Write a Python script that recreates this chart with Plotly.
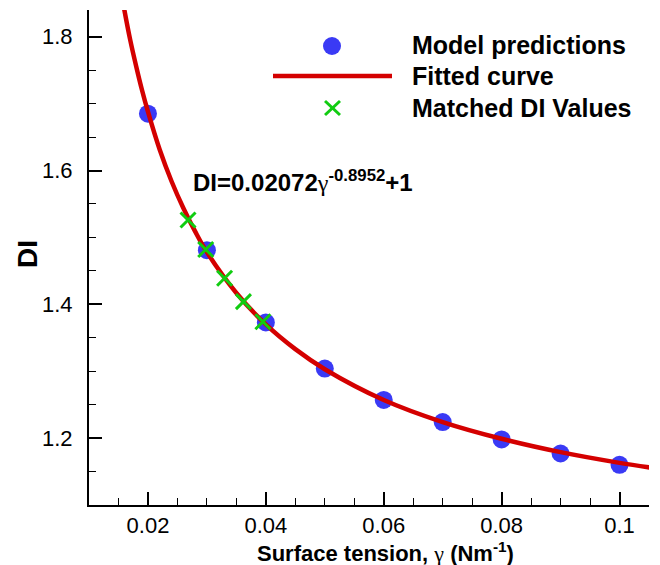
import plotly.graph_objects as go

# Model predictions
model_x = [0.02, 0.03, 0.04, 0.05, 0.06, 0.07, 0.08, 0.09, 0.10]
model_y = [1.685, 1.481, 1.373, 1.304, 1.257, 1.224, 1.198, 1.177, 1.160]

# Fitted curve points
curve_x = [0.015, 0.016, 0.017, 0.018, 0.019, 0.020, 0.022, 0.024, 0.026, 0.028,
           0.030, 0.035, 0.040, 0.045, 0.050, 0.060, 0.070, 0.080, 0.090, 0.100, 0.106]
curve_y = [1.890, 1.840, 1.795, 1.756, 1.720, 1.688, 1.631, 1.584, 1.544, 1.509,
           1.478, 1.417, 1.370, 1.333, 1.303, 1.257, 1.224, 1.199, 1.179, 1.163, 1.155]

# Matched DI values
match_x = [0.0268, 0.0298, 0.0330, 0.0362, 0.0395]
match_y = [1.526, 1.482, 1.439, 1.404, 1.374]

legend_labels = ["Model predictions", "Fitted curve", "Matched DI Values"]

x_range = [0.01, 0.105]
y_range = [1.1, 1.84]

W, H = 660, 565
ML, MR, MT, MB = 89, 11, 10, 60
PW, PH = W - ML - MR, H - MT - MB

BLUE = "#3a3af5"
RED = "#d40000"
GREEN = "#11cc11"
FONT = "Liberation Sans, Arial, sans-serif"
SERIF_G = "<span style='font-family:Liberation Serif, Times New Roman, serif;font-weight:normal'>γ</span>"


def px(xp):
    return (xp - ML) / PW


def py(yp):
    return 1 - (yp - MT) / PH


fig = go.Figure()
fig.add_trace(go.Scatter(x=model_x, y=model_y, mode="markers", name=legend_labels[0],
                         marker=dict(size=18, color=BLUE, line=dict(width=0))))
fig.add_trace(go.Scatter(x=curve_x, y=curve_y, mode="lines", name=legend_labels[1],
                         line=dict(color=RED, width=4.5, shape="spline")))
fig.add_trace(go.Scatter(x=match_x, y=match_y, mode="markers", name=legend_labels[2],
                         marker=dict(symbol="x-thin-open", size=15, color=GREEN,
                                     line=dict(width=3, color=GREEN))))

# Equation annotation
fig.add_annotation(x=0.0273, y=1.584, xref="x", yref="y", xanchor="left", yanchor="middle",
                   text="DI=0.02072" + SERIF_G + "<sup>-0.8952</sup>+1", showarrow=False,
                   font=dict(size=24, family=FONT, color="black", weight="bold"))

# Axis titles as annotations for exact placement
fig.add_annotation(x=px(27), y=py(254), xref="paper", yref="paper", xanchor="center",
                   yanchor="middle", text="DI", textangle=-90, showarrow=False,
                   font=dict(size=28, family=FONT, color="black", weight="bold"))
fig.add_annotation(x=px(385), y=py(552), xref="paper", yref="paper", xanchor="center",
                   yanchor="middle", showarrow=False,
                   text="Surface tension, " + SERIF_G + " (Nm<sup>-1</sup>)",
                   font=dict(size=22, family=FONT, color="black", weight="bold"))

# Legend (drawn to mimic the original's long line sample)
leg_font = dict(size=25, family=FONT, color="black", weight="bold")
row_y = [45, 76, 108]
for lbl, yy in zip(legend_labels, row_y):
    fig.add_annotation(x=px(410), y=py(yy), xref="paper", yref="paper", xanchor="left",
                       yanchor="middle", text=lbl, showarrow=False, font=leg_font)
# circle sample
fig.add_shape(type="circle", xref="paper", yref="paper",
              x0=px(323), x1=px(341), y0=py(46 + 9), y1=py(46 - 9),
              fillcolor=BLUE, line=dict(width=0))
# line sample
fig.add_shape(type="line", xref="paper", yref="paper",
              x0=px(273), x1=px(392), y0=py(76), y1=py(76),
              line=dict(color=RED, width=4.5))
# X sample
for (a, b, c, d) in [(325, 101, 340, 115), (325, 115, 340, 101)]:
    fig.add_shape(type="line", xref="paper", yref="paper",
                  x0=px(a), x1=px(c), y0=py(b), y1=py(d),
                  line=dict(color=GREEN, width=3))

axis_common = dict(showline=True, linewidth=2, linecolor="black", ticks="inside",
                   ticklen=13, tickwidth=2, tickcolor="black", showgrid=False,
                   zeroline=False, mirror=False,
                   tickfont=dict(size=22, family=FONT, color="black"))

fig.update_xaxes(range=x_range, tickmode="linear", tick0=0, dtick=0.02,
                 minor=dict(tickmode="linear", tick0=0, dtick=0.005, ticks="inside",
                            ticklen=7, tickwidth=1, tickcolor="black"),
                 ticklabelstandoff=0,
                 **axis_common)
fig.update_yaxes(range=y_range, tickmode="linear", tick0=0, dtick=0.2,
                 minor=dict(tickmode="linear", tick0=0, dtick=0.05, ticks="inside",
                            ticklen=7, tickwidth=1, tickcolor="black"),
                 ticklabelstandoff=10,
                 **axis_common)

fig.update_layout(width=W, height=H, margin=dict(l=ML, r=MR, t=MT, b=MB, autoexpand=False),
                  plot_bgcolor="white", paper_bgcolor="white",
                  font=dict(family=FONT, color="black"),
                  showlegend=False)

fig.write_html("out.html")
